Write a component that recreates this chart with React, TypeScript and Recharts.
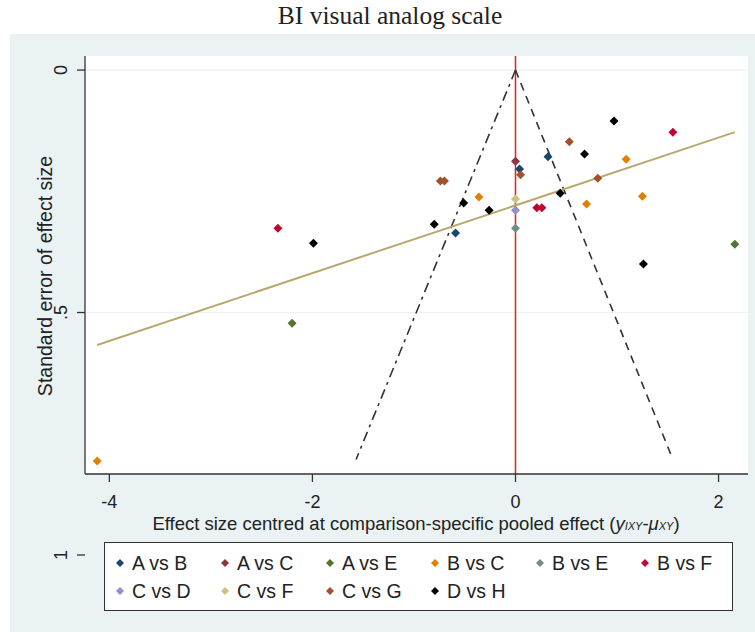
import React from "react";
import {
  ScatterChart,
  Scatter,
  XAxis,
  YAxis,
  CartesianGrid,
  ReferenceLine,
} from "recharts";

// effect size centred (x) vs standard error (y)
const abPoints = [
  { x: 0.04, y: 0.204 },
  { x: 0.32, y: 0.179 },
  { x: -0.59, y: 0.336 },
];
const acPoints = [{ x: 0, y: 0.188 }];
const aePoints = [
  { x: 2.16, y: 0.359 },
  { x: -2.2, y: 0.522 },
];
const bcPoints = [
  { x: -4.12, y: 0.806 },
  { x: -0.36, y: 0.262 },
  { x: 1.09, y: 0.184 },
  { x: 0.7, y: 0.276 },
  { x: 1.25, y: 0.26 },
];
const bePoints = [{ x: 0, y: 0.326 }];
const bfPoints = [
  { x: 1.55, y: 0.128 },
  { x: -2.34, y: 0.326 },
  { x: 0.21, y: 0.284 },
  { x: 0.26, y: 0.284 },
];
const cdPoints = [{ x: 0, y: 0.289 }];
const cfPoints = [{ x: 0, y: 0.266 }];
const cgPoints = [
  { x: 0.53, y: 0.148 },
  { x: 0.05, y: 0.216 },
  { x: -0.74, y: 0.229 },
  { x: -0.7, y: 0.229 },
  { x: 0.81, y: 0.223 },
];
const dhPoints = [
  { x: 0.97, y: 0.105 },
  { x: 0.68, y: 0.173 },
  { x: 0.44, y: 0.254 },
  { x: -0.51, y: 0.274 },
  { x: -0.26, y: 0.289 },
  { x: -0.8, y: 0.318 },
  { x: -1.99, y: 0.357 },
  { x: 1.26, y: 0.4 },
];

// fitted line and pseudo 95% limits
const fitLine = [
  { x: -4.12, y: 0.567 },
  { x: 2.16, y: 0.128 },
];
const funnelLeft = [
  { x: 0, y: 0 },
  { x: -1.57, y: 0.803 },
];
const funnelRight = [
  { x: 0, y: 0 },
  { x: 1.55, y: 0.803 },
];

const xTicks = [-4, -2, 0, 2];
const yTicks = [0, 0.5, 1];
const yTickLabels = ["0", ".5", "1"];

const series = [
  { name: "A vs B", data: abPoints, color: "#1a476f" },
  { name: "A vs C", data: acPoints, color: "#90353b" },
  { name: "A vs E", data: aePoints, color: "#55752f" },
  { name: "B vs C", data: bcPoints, color: "#e37e00" },
  { name: "B vs E", data: bePoints, color: "#6e8e84" },
  { name: "B vs F", data: bfPoints, color: "#c10534" },
  { name: "C vs D", data: cdPoints, color: "#938dd2" },
  { name: "C vs F", data: cfPoints, color: "#cac27e" },
  { name: "C vs G", data: cgPoints, color: "#a0522d" },
  { name: "D vs H", data: dhPoints, color: "#000000" },
];

const FONT = "'Liberation Sans', Arial, sans-serif";

const Diamond = (props: any) => {
  const { cx, cy, fill } = props;
  if (cx == null || cy == null) return <g />;
  const r = 4.5;
  return (
    <polygon
      points={`${cx},${cy - r} ${cx + r},${cy} ${cx},${cy + r} ${cx - r},${cy}`}
      fill={fill}
    />
  );
};

const NoDot = () => <g />;

const YTick = (props: any) => {
  const { x, y, payload } = props;
  const idx = yTicks.indexOf(payload.value);
  const bx = x - 8;
  return (
    <text
      x={bx}
      y={y}
      transform={`rotate(-90, ${bx}, ${y})`}
      textAnchor="middle"
      fontFamily={FONT}
      fontSize={18}
      fill="#222"
    >
      {idx >= 0 ? yTickLabels[idx] : payload.value}
    </text>
  );
};

const XLabel = () => (
  <text x={416} y={530} textAnchor="middle" fontFamily={FONT} fontSize={18.5} fill="#222">
    Effect size centred at comparison-specific pooled effect (
    <tspan fontStyle="italic">y</tspan>
    <tspan fontStyle="italic" fontSize={11}>IXY</tspan>
    <tspan>-</tspan>
    <tspan fontStyle="italic">μ</tspan>
    <tspan fontStyle="italic" fontSize={11}>XY</tspan>
    <tspan>)</tspan>
  </text>
);

const YLabel = () => (
  <text
    x={52}
    y={276}
    transform="rotate(-90, 52, 276)"
    textAnchor="middle"
    fontFamily={FONT}
    fontSize={19.5}
    fill="#222"
  >
    Standard error of effect size
  </text>
);

const LegendBox = () => (
  <div
    style={{
      position: "absolute",
      left: 104,
      top: 542,
      width: 627,
      height: 67,
      background: "#fff",
      border: "1px solid #333",
      fontFamily: FONT,
      fontSize: 19.5,
      color: "#222",
    }}
  >
    {series.map((s, i) => {
      const col = i % 6;
      const row = Math.floor(i / 6);
      return (
        <div
          key={s.name}
          style={{
            position: "absolute",
            left: 10 + col * 105,
            top: 8 + row * 28,
            height: 24,
            lineHeight: "24px",
            whiteSpace: "nowrap",
            display: "flex",
            alignItems: "center",
          }}
        >
          <svg width={10} height={10} style={{ marginRight: 7 }}>
            <polygon points="5,1 9,5 5,9 1,5" fill={s.color} />
          </svg>
          {s.name}
        </div>
      );
    })}
  </div>
);

export default function App() {
  return (
    <div
      style={{
        position: "absolute",
        left: 0,
        top: 0,
        width: 755,
        height: 632,
        background: "#fff",
        overflow: "hidden",
      }}
    >
      <div
        style={{
          position: "absolute",
          left: 10,
          top: 34,
          width: 745,
          height: 598,
          background: "#eaf2f3",
        }}
      />
      <div
        style={{
          position: "absolute",
          left: 0,
          width: 780,
          top: 1,
          textAlign: "center",
          fontFamily: "'Liberation Serif', 'Times New Roman', serif",
          fontSize: 25.5,
          color: "#222",
        }}
      >
        BI visual analog scale
      </div>
      <div style={{ position: "absolute", left: 0, top: 0 }}>
        <ScatterChart
          width={755}
          height={632}
          margin={{ top: 56, right: 7, bottom: 118, left: 45 }}
        >
          <CartesianGrid fill="#fff" horizontal={false} vertical={false} />
          <ReferenceLine y={0} stroke="#eaf2f3" strokeWidth={1.2} />
          <ReferenceLine y={0.5} stroke="#eaf2f3" strokeWidth={1.2} />
          <XAxis
            type="number"
            dataKey="x"
            domain={[-4.24, 2.29]}
            ticks={xTicks}
            interval={0}
            height={40}
            tickSize={8}
            tickMargin={13}
            axisLine={{ stroke: "#333", strokeWidth: 1.3 }}
            tickLine={{ stroke: "#333", strokeWidth: 1.3 }}
            tick={{ fontFamily: FONT, fontSize: 18, fill: "#222" }}
            label={<XLabel />}
            allowDataOverflow
          />
          <YAxis
            type="number"
            dataKey="y"
            reversed
            domain={[-0.029, 0.833]}
            ticks={yTicks}
            interval={0}
            width={40}
            tickSize={8}
            axisLine={{ stroke: "#333", strokeWidth: 1.3 }}
            tickLine={{ stroke: "#333", strokeWidth: 1.3 }}
            tick={<YTick />}
            label={<YLabel />}
            allowDataOverflow
          />
          <ReferenceLine x={0} stroke="#e8201c" strokeWidth={1.5} />
          <Scatter
            data={funnelLeft}
            line={{ stroke: "#333", strokeWidth: 1.6, strokeDasharray: "10 5 3 5" }}
            shape={<NoDot />}
            isAnimationActive={false}
          />
          <Scatter
            data={funnelRight}
            line={{ stroke: "#333", strokeWidth: 1.6, strokeDasharray: "8 6" }}
            shape={<NoDot />}
            isAnimationActive={false}
          />
          <Scatter
            data={fitLine}
            line={{ stroke: "#b9a86e", strokeWidth: 2 }}
            shape={<NoDot />}
            isAnimationActive={false}
          />
          {series.map((s) => (
            <Scatter
              key={s.name}
              name={s.name}
              data={s.data}
              fill={s.color}
              shape={<Diamond />}
              isAnimationActive={false}
            />
          ))}
        </ScatterChart>
      </div>
      <LegendBox />
    </div>
  );
}
